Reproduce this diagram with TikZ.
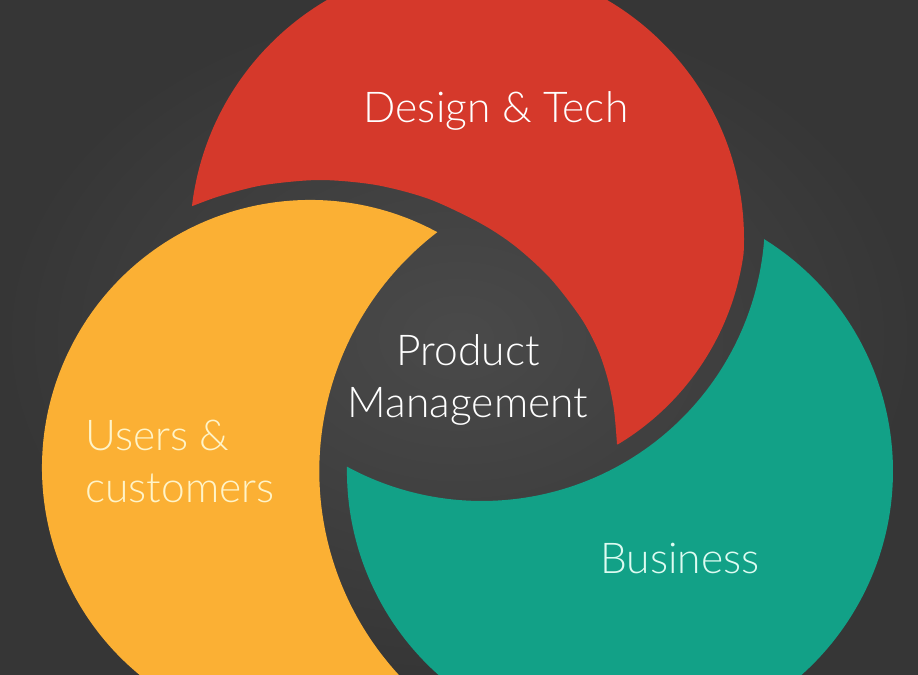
\documentclass[tikz,border=0pt]{standalone}
\usepackage{fontspec}
\setmainfont{Lato}[UprightFont={* Light}]
\usepackage{tikz}
\definecolor{boardmid}{HTML}{4A4A4A}
\definecolor{boardedge}{HTML}{363636}
\definecolor{techred}{HTML}{D5392B}
\definecolor{useryellow}{HTML}{FBB034}
\definecolor{bizteal}{HTML}{12A187}
\definecolor{usercream}{HTML}{FFF4C8}
\definecolor{bizmint}{HTML}{DDFBF1}

\begin{document}
\begin{tikzpicture}[x=0.02cm, y=-0.02cm, smooth,
  txt/.style={text=white, inner sep=0pt, font=\fontsize{24.2}{29.5}\selectfont}]
\useasboundingbox (0,0) rectangle (918,675);
\shade[inner color=boardmid, outer color=boardedge] (0,0) rectangle (918,675);
\clip (0,0) rectangle (918,675);

\fill[techred] (191.95,206.2) arc[start angle=186.8, end angle=362.96, radius=277]
  arc[start angle=7.68, end angle=59.1, radius=264]
  -- plot coordinates {
(617,444) (614,410) (608,380) (598,350) (581,318) (550,278) (515,246) (480,223)
(429,199) (376,185) (320,180) (264,185) (221,195.7) (191.95,206.2)
} -- cycle;

\fill[useryellow] (437.05,232.03) arc[start angle=-61.7, end angle=-297.2, radius=268]
  arc[start angle=128.6, end angle=232.6, radius=301] -- cycle;

\fill[bizteal] (764.2,239.2) arc[start angle=-58.1, end angle=180.9, radius=273]
  arc[start angle=118.5, end angle=4.3, radius=283] -- cycle;

\node[txt, anchor=base] (design) at (496,123) {Design \& Tech};
\node[txt, align=center, anchor=base] (pm) at (468,417) {Product\\Management};
\node[txt, text=usercream, align=left, anchor=base west] (users) at (85,502) {Users \&\\customers};
\node[txt, text=bizmint, anchor=base] (business) at (680,573) {Business};
\end{tikzpicture}
\end{document}
